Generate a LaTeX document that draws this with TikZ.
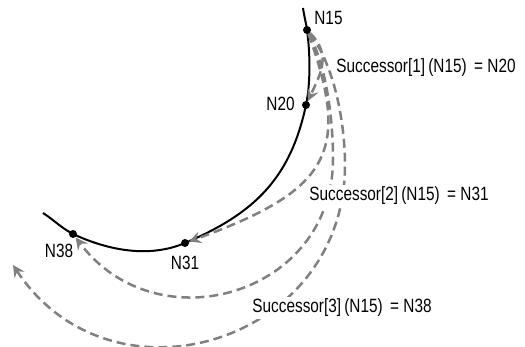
\documentclass[tikz,border=0pt]{standalone}
\usepackage{fontspec}
\setmainfont{Liberation Sans}[FakeStretch=0.8]
\usetikzlibrary{arrows.meta}
\definecolor{succgray}{RGB}{128,128,128}

\begin{document}
\begin{tikzpicture}[x=0.5pt,y=0.5pt,
    dot/.style={circle,fill=black,inner sep=0pt,minimum size=4pt},
    lbl/.style={inner sep=1pt,font=\fontsize{9.6}{11}\selectfont},
    ring/.style={line width=1pt},
    succ/.style={draw=succgray,line width=1.25pt,dash pattern=on 4.5pt off 2.5pt,
        -{Stealth[length=6pt,width=6pt,inset=2.2pt,fill=succgray]}}]
    \useasboundingbox (0,0) rectangle (525,347);
    % ring and nodes on it
    \coordinate (top) at (303,339);
    \coordinate (tail) at (43,134);
    \node[dot] (n15) at (307,317) {};
    \node[dot] (n20) at (306,242) {};
    \node[dot] (n31) at (185,104) {};
    \node[dot] (n38) at (73,113) {};
    \draw[ring] (top) to[out=-82,in=98] (n15.center) to[out=-82,in=78,looseness=0.77] (n20.center)
        to[out=-102,in=23,looseness=1.05] (n31.center)
        to[out=203,in=-25,looseness=0.89] (n38.center) to[out=152,in=-33] (tail);
    % successor fingers
    \coordinate (w3) at (333,188);
    \coordinate (w4) at (345,182);
    \coordinate (e4) at (13,82);
    \draw[succ] (n15) to[out=-45,in=65,looseness=1.15] (n20);
    \draw[succ] (n15) to[out=-70,in=20,out looseness=1.36,in looseness=1.58] (n31);
    \draw[succ] (n15) to[out=-62,in=90,looseness=0.77] (w3) to[out=-90,in=-53,looseness=1.29] (n38);
    \draw[succ] (n15) to[out=-52,in=90,looseness=0.77] (w4) to[out=-90,in=-56.5,looseness=1.32] (e4);
    % labels
    \node[lbl,anchor=west] (l15) at (312,329) {N15};
    \node[lbl,anchor=east] (l20) at (297,243) {N20};
    \node[lbl] (l31) at (185,84) {N31};
    \node[lbl] (l38) at (59,96) {N38};
    \node[lbl,fill=white,anchor=west] (s1) at (334,279) {Successor[1]\,(N15)\, = N20};
    \node[lbl,fill=white,anchor=west] (s2) at (307,151) {Successor[2]\,(N15)\, = N31};
    \node[lbl,fill=white,anchor=west] (s3) at (250,39) {Successor[3]\,(N15)\, = N38};
\end{tikzpicture}
\end{document}
